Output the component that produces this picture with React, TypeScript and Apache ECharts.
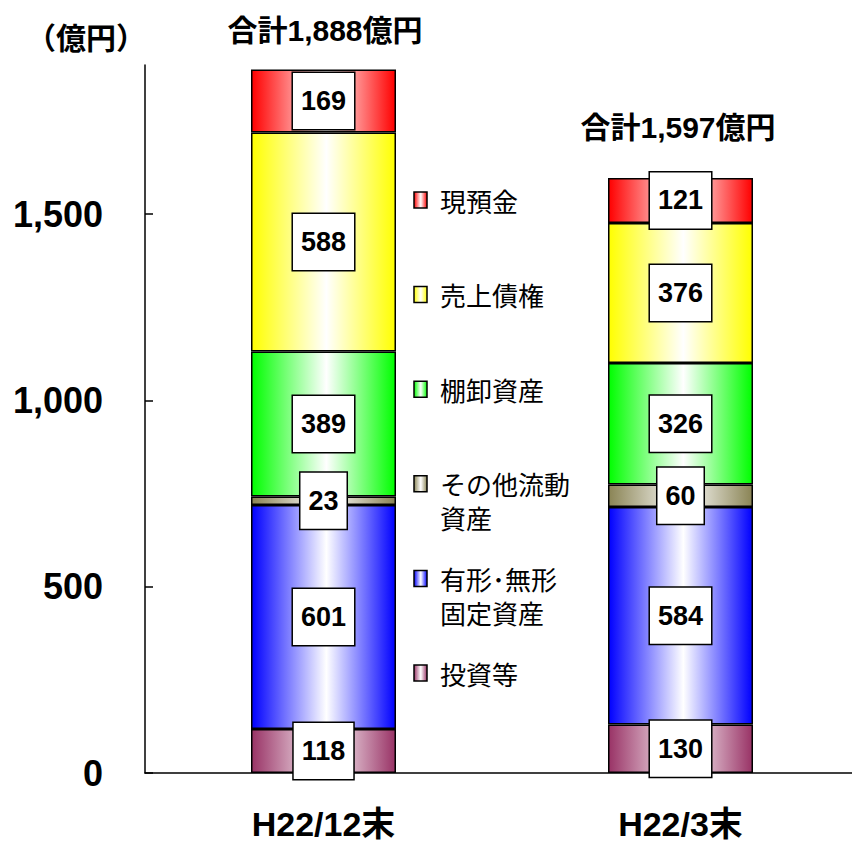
import React, { useEffect, useRef } from "react";
import * as echarts from "echarts";

// ---- data ----
const categories = ["H22/12末", "H22/3末"];
const seriesNames = ["投資等", "有形･無形固定資産", "その他流動資産", "棚卸資産", "売上債権", "現預金"];
const investments = [118, 130];
const fixedAssets = [601, 584];
const otherCurrent = [23, 60];
const inventories = [389, 326];
const receivables = [588, 376];
const cash = [169, 121];
const totals = [1888, 1597];
const yTickValues = [0, 500, 1000, 1500];

// legend (top to bottom)
const legendNames = ["現預金", "売上債権", "棚卸資産", "その他流動\n資産", "有形･無形\n固定資産", "投資等"];

// ---- styles ----
const colors = ["#993366", "#0000FF", "#8a8455", "#00FF00", "#FFFF00", "#FF0000"];
const legendColors = ["#FF0000", "#FFFF00", "#00FF00", "#8a8455", "#0000FF", "#993366"];
const totalLabelOffsets = [[1.5, -18], [-2.5, -30]];
const LATIN = "'Liberation Sans', Arial, 'Noto Sans CJK JP', sans-serif";
const CJK = "'Noto Sans CJK JP', 'Noto Sans', sans-serif";

const grad = (c: string) =>
  new echarts.graphic.LinearGradient(0, 0, 1, 0, [
    { offset: 0, color: c },
    { offset: 0.52, color: "#ffffff" },
    { offset: 1, color: c },
  ]);

export default function App() {
  const ref = useRef<HTMLDivElement>(null);
  useEffect(() => {
    if (!ref.current) return;
    const chart = echarts.init(ref.current, undefined, { renderer: "svg" });
    const values = [investments, fixedAssets, otherCurrent, inventories, receivables, cash];
    const barSeries = values.map((v, i) => ({
      type: "bar",
      name: seriesNames[i],
      stack: "total",
      barWidth: 145,
      data: v,
      itemStyle: { color: grad(colors[i]), borderColor: "#000", borderWidth: 1.5 },
      label: {
        show: true,
        position: "inside",
        formatter: "{c}",
        color: "#000",
        fontFamily: LATIN,
        fontWeight: "bold",
        fontSize: 27,
        lineHeight: 30,
        backgroundColor: "#fff",
        borderColor: "#000",
        borderWidth: 1.5,
        padding: [13, 8],
      },
    }));
    const totalSeries = {
      type: "scatter",
      name: "合計",
      symbolSize: 1,
      itemStyle: { color: "rgba(255,255,255,0)" },
      z: 10,
      data: totals.map((t, i) => ({
        value: [categories[i], t],
        label: { offset: totalLabelOffsets[i] },
      })),
      label: {
        show: true,
        position: "top",
        color: "#000000",
        opacity: 1,
        fontFamily: LATIN,
        fontWeight: "bold",
        fontSize: 30,
        formatter: (p: any) => "合計" + Number(p.value[1]).toLocaleString("en-US") + "億円",
      },
      emphasis: { disabled: true },
    };
    const graphics: any[] = [
      {
        type: "text",
        left: 26,
        top: 23,
        style: { text: "（億円）", font: `bold 30px ${LATIN}`, fill: "#000" },
      },
    ];
    legendNames.forEach((n, i) => {
      const cy = 200 + i * 94.6;
      graphics.push({
        type: "rect",
        shape: { x: 414, y: cy - 8, width: 13, height: 16 },
        style: { fill: grad(legendColors[i]), stroke: "#000", lineWidth: 1.5 },
      });
      graphics.push({
        type: "text",
        x: 440,
        y: cy - 17,
        style: {
          text: n,
          font: `26px ${CJK}`,
          fill: "#000",
          lineHeight: 34,
          verticalAlign: "top",
        },
      });
    });
    chart.setOption({
      animation: false,
      grid: { left: 145, width: 714, top: 65, bottom: 71, outerBoundsMode: "none", containLabel: false },
      xAxis: {
        type: "category",
        data: categories,
        axisLine: { lineStyle: { color: "#000", width: 1.5 } },
        axisTick: { show: false },
        axisLabel: {
          color: "#000",
          fontFamily: LATIN,
          fontWeight: "bold",
          fontSize: 34,
          margin: 34,
        },
      },
      yAxis: {
        type: "value",
        min: 0,
        max: 1900,
        interval: 500,
        splitLine: { show: false },
        axisLine: { show: true, lineStyle: { color: "#000", width: 1.5 } },
        axisTick: {
          show: true,
          inside: true,
          length: 8,
          lineStyle: { color: "#000", width: 1.5 },
          customValues: yTickValues,
        },
        axisLabel: {
          color: "#000",
          fontFamily: LATIN,
          fontWeight: "bold",
          fontSize: 36,
          margin: 42,
          customValues: yTickValues,
          formatter: (v: number) => v.toLocaleString("en-US"),
        },
      },
      graphic: graphics,
      series: [...barSeries, totalSeries],
    });
    return () => chart.dispose();
  }, []);
  return (
    <div
      ref={ref}
      style={{ position: "absolute", left: 0, top: 0, width: 852, height: 844, overflow: "hidden", background: "#fff" }}
    />
  );
}
